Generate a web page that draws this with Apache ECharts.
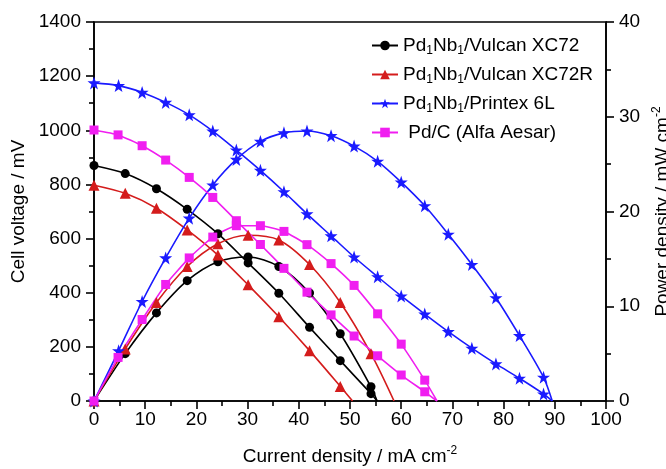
<!DOCTYPE html>
<html><head><meta charset="utf-8">
<script src="https://cdn.jsdelivr.net/npm/echarts@6/dist/echarts.min.js"></script>
<style>html,body{margin:0;padding:0;background:#fff}#c{width:666px;height:469px}</style>
</head><body><div id="c"></div>
<script>
// ---- data ----
// Pd1Nb1/Vulcan XC72
const xc72_I = [0, 6.1, 12.2, 18.2, 24.2, 30.1, 36.1, 42.1, 48.1, 54.1, 55.3];
const xc72_V = [870, 840, 784, 708, 618, 510, 398, 272, 149, 27, 0];
const xc72_P = [0, 5.0, 9.3, 12.7, 14.7, 15.2, 14.2, 11.4, 7.1, 1.5, 0];
// Pd1Nb1/Vulcan XC72R
const xc72r_IV = [0, 6.1, 12.2, 18.2, 24.2, 30.1, 36.1, 42.1, 48.1, 50.5];
const xc72r_V = [797, 767, 712, 632, 539, 429, 311, 186, 54, 0];
const xc72r_IP = [0, 6.1, 12.2, 18.2, 24.2, 30.1, 36.1, 42.1, 48.1, 54.1, 58.6];
const xc72r_P = [0, 5.5, 10.4, 14.2, 16.6, 17.5, 17.0, 14.4, 10.4, 5.0, 0];
// Pd1Nb1/Printex 6L
const p6l_I = [0, 4.8, 9.4, 14.0, 18.6, 23.2, 27.8, 32.5, 37.1, 41.6, 46.3, 50.8, 55.4, 60.0, 64.6, 69.2, 73.8, 78.5, 83.1, 87.8, 89.5];
const p6l_V = [1175, 1165, 1140, 1103, 1057, 997, 927, 852, 773, 691, 610, 532, 459, 388, 321, 256, 195, 137, 84, 26, 0];
const p6l_P = [0, 5.3, 10.5, 15.1, 19.3, 22.8, 25.5, 27.4, 28.3, 28.5, 28.0, 26.9, 25.3, 23.1, 20.6, 17.6, 14.4, 10.9, 6.9, 2.5, 0];
// Pd/C (Alfa Aesar)
const pdc_I = [0, 4.7, 9.4, 14.0, 18.6, 23.2, 27.8, 32.5, 37.1, 41.6, 46.3, 50.8, 55.4, 60.0, 64.6, 67.0];
const pdc_V = [1001, 983, 943, 890, 826, 752, 666, 578, 490, 402, 318, 240, 167, 96, 34, 0];
const pdc_P = [0, 4.6, 8.6, 12.3, 15.1, 17.3, 18.5, 18.5, 17.9, 16.5, 14.5, 12.2, 9.2, 6.0, 2.2, 0];

const xTicks = {min: 0, max: 100, interval: 10};
const vTicks = {min: 0, max: 1400, interval: 200};
const pTicks = {min: 0, max: 40, interval: 10};

// ---- chart ----
const FONT = '"Liberation Sans", Arial, sans-serif';
const colors = {XC72: '#000000', XC72R: '#d41c1c', P6L: '#1a1aff', PdC: '#f01ef0'};
const labels = {
  XC72: '{t|Pd}{s|1}{t|Nb}{s|1}{t|/Vulcan XC72}',
  XC72R: '{t|Pd}{s|1}{t|Nb}{s|1}{t|/Vulcan XC72R}',
  P6L: '{t|Pd}{s|1}{t|Nb}{s|1}{t|/Printex 6L}',
  PdC: '{t| Pd/C (Alfa Aesar)}'
};
const STAR = 'path://M50,0 L61.8,35.1 L98.9,35.1 L69,57.3 L79.4,92.7 L50,71.5 L20.6,92.7 L31,57.3 L1.1,35.1 L38.2,35.1 Z';
function pts(I, Y) {
  return I.map((x, i) => (i === I.length - 1 && Y[i] === 0 && x > 0)
    ? {value: [x, Y[i]], symbol: 'none'} : [x, Y[i]]);
}
function ser(name, I, Y, yIdx, symbol, size, smooth) {
  return {
    name: name, type: 'line', yAxisIndex: yIdx, data: pts(I, Y),
    symbol: symbol, symbolSize: size, smooth: smooth,
    lineStyle: {color: colors[name], width: 1.6},
    itemStyle: {color: colors[name]},
    emphasis: {disabled: true}
  };
}
const axisCommon = {
  axisLine: {show: true, onZero: false, lineStyle: {color: '#000', width: 1.6}},
  axisTick: {show: true, inside: false, length: 8, lineStyle: {color: '#000', width: 1.6}},
  minorTick: {show: true, splitNumber: 2, length: 5, lineStyle: {color: '#000', width: 1.6}},
  splitLine: {show: false},
  axisLabel: {color: '#000', fontSize: 19, fontFamily: FONT, formatter: v => String(v)},
  nameLocation: 'middle',
  nameTextStyle: {color: '#000', fontSize: 19, fontFamily: FONT,
    rich: {a: {fontSize: 19, fontFamily: FONT, color: '#000'},
           s: {fontSize: 12, fontFamily: FONT, color: '#000', padding: [0, 0, 11, 0]}}}
};
const chart = echarts.init(document.getElementById('c'), null, {renderer: 'canvas'});
chart.setOption({
  animation: false,
  backgroundColor: '#fff',
  grid: {left: 94, right: 60, top: 22, bottom: 68, containLabel: false, outerBoundsMode: 'none',
    show: true, borderColor: '#000', borderWidth: 1.6},
  legend: {
    orient: 'vertical', left: 366, top: 31, itemWidth: 26, itemHeight: 12, itemGap: 8,
    data: ['XC72', 'XC72R', 'P6L', 'PdC'],
    formatter: n => labels[n],
    textStyle: {color: '#000', fontSize: 19, fontFamily: FONT,
      rich: {t: {fontSize: 19, fontFamily: FONT, color: '#000'},
             s: {fontSize: 12, fontFamily: FONT, color: '#000', padding: [11, 0, 0, 0]}}}
  },
  xAxis: Object.assign({}, axisCommon, {
    type: 'value', min: xTicks.min, max: xTicks.max, interval: xTicks.interval,
    name: '{a|Current density / mA cm}{s|-2}', nameGap: 44,
    axisLabel: Object.assign({}, axisCommon.axisLabel, {margin: 9})
  }),
  yAxis: [
    Object.assign({}, axisCommon, {
      type: 'value', min: vTicks.min, max: vTicks.max, interval: vTicks.interval,
      name: 'Cell voltage / mV', nameGap: 63, nameRotate: 90,
      axisLabel: Object.assign({}, axisCommon.axisLabel, {margin: 13})
    }),
    Object.assign({}, axisCommon, {
      type: 'value', position: 'right', min: pTicks.min, max: pTicks.max, interval: pTicks.interval,
      name: '{a|Power density / mW cm}{s|-2}', nameGap: 41, nameRotate: 90,
      axisLabel: Object.assign({}, axisCommon.axisLabel, {margin: 13})
    })
  ],
  series: [
    ser('XC72', xc72_I, xc72_V, 0, 'circle', 9, 0.3),
    ser('XC72', xc72_I, xc72_P, 1, 'circle', 9, 0.3),
    ser('XC72R', xc72r_IV, xc72r_V, 0, 'triangle', 11, 0.3),
    ser('XC72R', xc72r_IP, xc72r_P, 1, 'triangle', 11, 0.3),
    ser('P6L', p6l_I, p6l_V, 0, STAR, 13, 0.3),
    ser('P6L', p6l_I, p6l_P, 1, STAR, 13, 0.3),
    ser('PdC', pdc_I, pdc_V, 0, 'rect', 9, 0.15),
    ser('PdC', pdc_I, pdc_P, 1, 'rect', 9, 0.15)
  ]
});
</script></body></html>
